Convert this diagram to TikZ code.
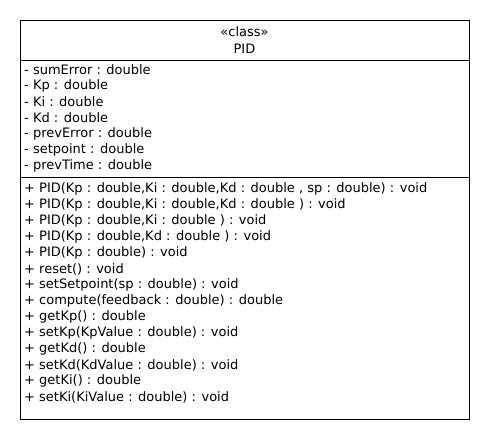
\documentclass[tikz,border=0pt]{standalone}
\usepackage{fontspec}
\setmainfont{DejaVu Sans}
\usepackage{tikz}
\usetikzlibrary{positioning}
\usepackage{xcolor}
\tikzstyle{classbox} = [rectangle, draw=black, line width=0.9pt, minimum width=449pt, minimum height=399pt, inner sep=0pt]
\tikzstyle{member} = [anchor=west, inner sep=0pt, font=\fontsize{13}{15}\selectfont]
\tikzstyle{divider} = [draw=black, line width=0.9pt]

\begin{document}
\begin{tikzpicture}[x=1pt, y=-1pt]
\useasboundingbox (0,0) rectangle (490,440);
% Class box
\node[classbox] at (244.5, 219.5) (pid) {};
\node[member, anchor=center] at (244.5, 32) (stereo) {«class»};
\node[member, anchor=center] at (244.5, 49) (name) {PID};

% Compartment lines
\coordinate (hdl) at (20, 60);
\coordinate (hdr) at (469, 60);
\coordinate (atl) at (20, 177);
\coordinate (atr) at (469, 177);
\draw[divider] (hdl) -- (hdr);
\draw[divider] (atl) -- (atr);

% Attributes
\node[member] at (24, 70) (a1) {- sumError : double};
\node[member] at (24, 86) (a2) {- Kp : double};
\node[member] at (24, 102) (a3) {- Ki : double};
\node[member] at (24, 118) (a4) {- Kd : double};
\node[member] at (24, 134) (a5) {- prevError : double};
\node[member] at (24, 150) (a6) {- setpoint : double};
\node[member] at (24, 166) (a7) {- prevTime : double};

% Operations
\node[member] at (24, 189) (m1) {+ PID(Kp : double,Ki : double,Kd : double , sp : double) : void};
\node[member] at (24, 205) (m2) {+ PID(Kp : double,Ki : double,Kd : double ) : void};
\node[member] at (24, 221) (m3) {+ PID(Kp : double,Ki : double ) : void};
\node[member] at (24, 237) (m4) {+ PID(Kp : double,Kd : double ) : void};
\node[member] at (24, 253) (m5) {+ PID(Kp : double) : void};
\node[member] at (24, 269) (m6) {+ reset() : void};
\node[member] at (24, 285) (m7) {+ setSetpoint(sp : double) : void};
\node[member] at (24, 301) (m8) {+ compute(feedback : double) : double};
\node[member] at (24, 317) (m9) {+ getKp() : double};
\node[member] at (24, 333) (m10) {+ setKp(KpValue : double) : void};
\node[member] at (24, 349) (m11) {+ getKd() : double};
\node[member] at (24, 365) (m12) {+ setKd(KdValue : double) : void};
\node[member] at (24, 381) (m13) {+ getKi() : double};
\node[member] at (24, 397) (m14) {+ setKi(KiValue : double) : void};
\end{tikzpicture}
\end{document}
